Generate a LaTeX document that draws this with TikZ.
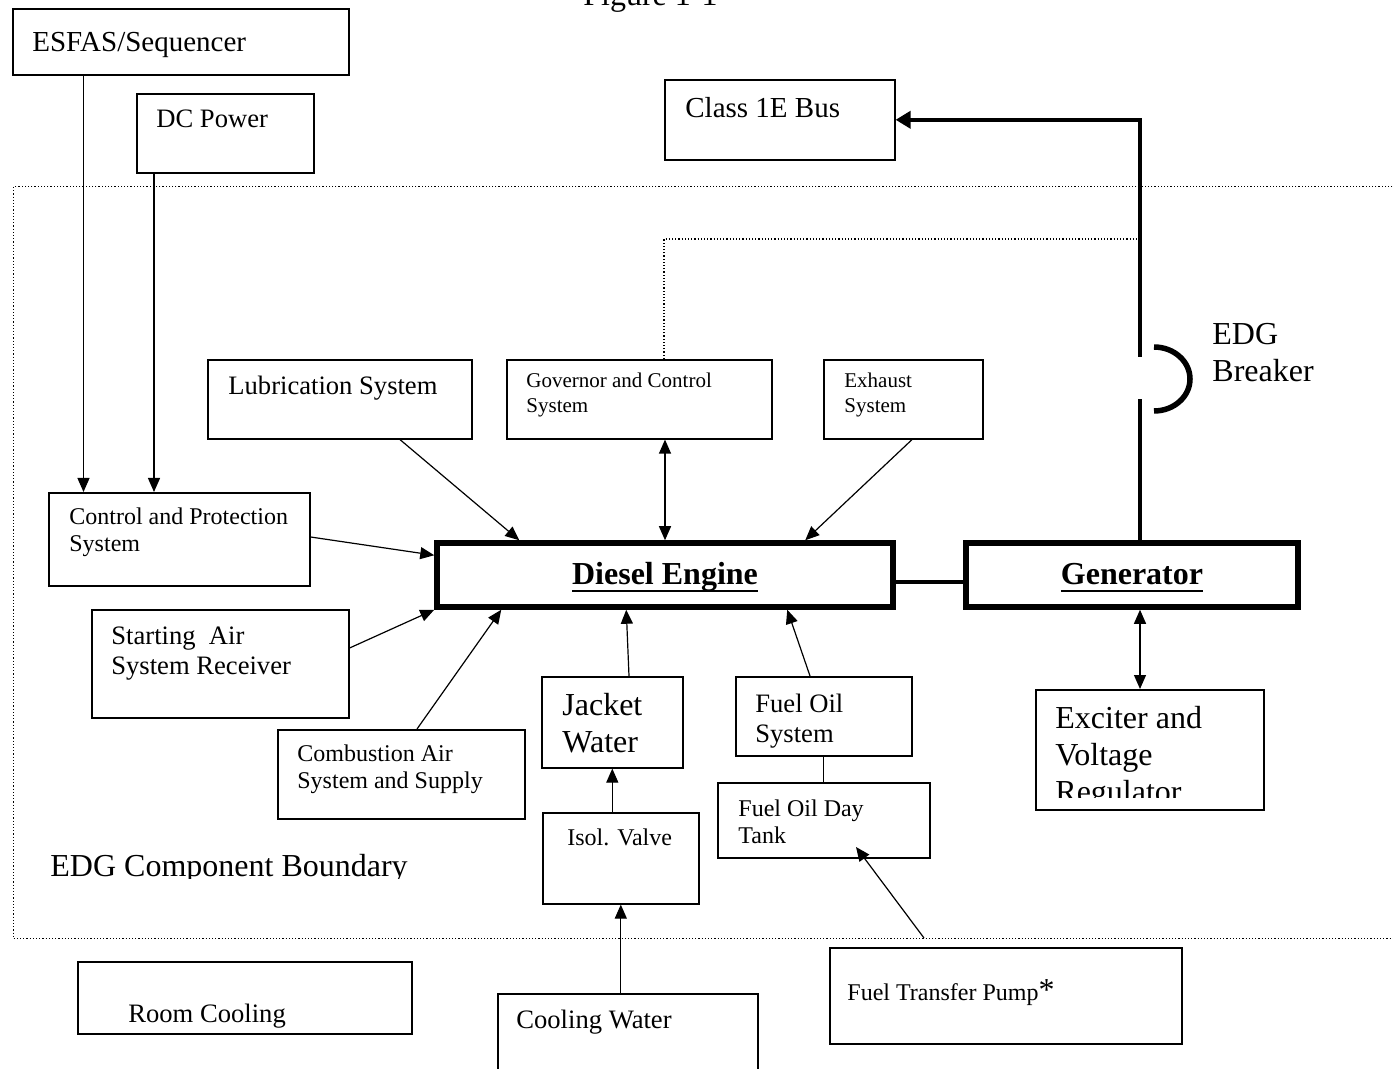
\documentclass[tikz,border=0pt]{standalone}
\usepackage{fontspec}
\setmainfont{Liberation Serif}
\usetikzlibrary{arrows.meta}
\newcommand{\txtL}{\fontsize{16}{18.5}\selectfont}
\newcommand{\txtE}{\fontsize{14.5}{17}\selectfont}
\newcommand{\txtM}{\fontsize{13.3}{15}\selectfont}
\newcommand{\txtS}{\fontsize{12}{13.5}\selectfont}
\newcommand{\txtXS}{\fontsize{10.5}{12.5}\selectfont}
\newcommand{\ulg}[1]{\setbox0\hbox{#1}\rlap{\rule[-3.6pt]{\wd0}{1pt}}\box0}
\begin{document}
\begin{tikzpicture}[
  x=0.5pt, y=-0.5pt,
  >={Triangle[length=7pt,width=6pt]},
  box/.style={rectangle, draw, line width=0.8pt, inner sep=0pt, anchor=north west},
  bigbox/.style={rectangle, draw, line width=2.75pt, minimum width=#1, minimum height=32pt, inner sep=0pt, text height=11pt, text depth=1pt, font=\txtL\bfseries},
  bound/.style={rectangle, draw, densely dotted, line width=0.6pt, inner sep=0pt, anchor=north west},
  txt/.style={inner sep=0pt, anchor=base west, align=left},
  link/.style={line width=0.6pt},
  power/.style={line width=2.25pt}
]
\useasboundingbox[fill=white] (0,0) rectangle (1393,1069);
\clip (0,0) rectangle (1393,1069);

\node[bound, minimum width=693.5pt, minimum height=376pt] (boundary) at (13,186) {};
\node[txt, font=\txtL] (fig) at (583,6) {Figure 1-1};

\node[box, minimum width=168pt, minimum height=33pt] (esfas) at (12,8) {};
\node[box, minimum width=88.5pt, minimum height=39.5pt] (dcpower) at (136,93) {};
\node[box, minimum width=115pt, minimum height=40pt] (bus) at (664,79) {};
\node[box, minimum width=132pt, minimum height=39.5pt] (lube) at (207,359) {};
\node[box, minimum width=132.5pt, minimum height=39.5pt] (gov) at (506,359) {};
\node[box, minimum width=79.5pt, minimum height=39.5pt] (exhaust) at (823,359) {};
\node[box, minimum width=130.5pt, minimum height=46.5pt] (cps) at (48,492) {};
\node[box, minimum width=128.5pt, minimum height=54pt] (startair) at (91,609) {};
\node[box, minimum width=123.5pt, minimum height=44.5pt] (combair) at (277,729) {};
\node[box, minimum width=70.5pt, minimum height=45.5pt] (jacket) at (541,676) {};
\node[box, minimum width=88pt, minimum height=39.5pt] (fuelsys) at (735,676) {};
\node[box, minimum width=106pt, minimum height=37.5pt] (daytank) at (717,782) {};
\node[box, minimum width=78pt, minimum height=45.5pt] (valve) at (542,812) {};
\node[box, minimum width=114pt, minimum height=60pt] (exciter) at (1035,689) {};
\node[box, minimum width=167pt, minimum height=36pt] (room) at (77,961) {};
\node[box, minimum width=130pt, minimum height=60pt] (coolwater) at (497,993) {};
\node[box, minimum width=176pt, minimum height=48pt] (pump) at (829,947) {};
\node[bigbox=228pt] (engine) at (665,575) {\ulg{Diesel Engine}};
\node[bigbox=166pt] (gen) at (1132,575) {\ulg{Generator}};

\node[txt, font=\txtE] (esfas-t) at (32,52) {ESFAS/Sequencer};
\node[txt, font=\txtM] (dcpower-t) at (156,128) {DC Power};
\node[txt, font=\txtE] (bus-t) at (685,118) {Class 1E Bus};
\node[txt, font=\txtM] (lube-t) at (228,395) {Lubrication System};
\node[txt, font=\txtXS] (gov-t) at (526,413) {Governor and Control\\System};
\node[txt, font=\txtXS] (exhaust-t) at (844,413) {Exhaust\\System};
\node[txt, font=\txtS] (cps-t) at (69,552) {Control and Protection\\System};
\node[txt, font=\txtM] (startair-t) at (111,675) {Starting\ \ Air\\System Receiver};
\node[txt, font=\txtS] (combair-t) at (297,788) {Combustion Air\\System and Supply};
\node[txt, font=\txtL] (jacket-t) at (562,752) {Jacket\\Water};
\node[txt, font=\txtM] (fuelsys-t) at (755,742) {Fuel Oil\\System};
\node[txt, font=\txtS] (daytank-t) at (738,843) {Fuel Oil Day\\Tank};
\node[txt, font=\txtS] (valve-t) at (567,845) {Isol. Valve};
\node[txt, font=\txtS] (pump-t) at (847,1000) {Fuel Transfer Pump{\txtL*}};
\node[txt, font=\txtM] (coolwater-t) at (516,1028) {Cooling Water};
\node[txt, font=\txtM] (room-t) at (128,1022) {Room Cooling};
\node[txt, font=\txtL] (brk-t) at (1212,382) {EDG\\Breaker};
\begin{scope}
  \clip (1035,689) rectangle (1263,797);
  \node[txt, font=\txtL] (exciter-t) at (1055,802) {Exciter and\\Voltage\\Regulator};
\end{scope}
\begin{scope}
  \clip (13,840) rectangle (500,878);
  \node[txt, font=\txtL] (boundary-t) at (50,876) {EDG Component Boundary};
\end{scope}

\draw[link,->] ([xshift=35.75pt]esfas.south west) -- ([xshift=17.75pt]cps.north west);
\draw[link,->] ([xshift=9pt]dcpower.south west) -- ([xshift=53pt]cps.north west);
\draw[link,->] ([yshift=-22.5pt]cps.north east) -- ([yshift=-7.5pt]engine.north west);
\draw[link,->] ([yshift=-19.5pt]startair.north east) -- (engine.south west);
\draw[link,->] ([xshift=70pt]combair.north west) -- ([xshift=33.5pt]engine.south west);
\draw[link,->] ([xshift=44pt]jacket.north west) -- ([xshift=96pt]engine.south west);
\draw[link,->] ([xshift=37.5pt]fuelsys.north west) -- ([xshift=176.5pt]engine.south west);
\draw[link,->] ([xshift=96.5pt]lube.south west) -- ([xshift=42.5pt]engine.north west);
\draw[link,<->] ([xshift=79.5pt]gov.south west) -- (engine.north);
\draw[link,->] ([xshift=44.5pt]exhaust.south west) -- ([xshift=185.5pt]engine.north west);
\draw[link,->] (valve.north -| jacket.south) -- (jacket.south);
\draw[link,->] (coolwater.north -| valve.south) -- (valve.south);
\draw[link] (fuelsys.south) -- (daytank.north);
\draw[link,->] ([shift={(47.5pt,4.5pt)}]pump.north west) -- ([shift={(69.5pt,-32.5pt)}]daytank.north west);
\draw[link,<->] ([xshift=4pt]gen.south) -- ([xshift=52.5pt]exciter.north west);

\coordinate (brkA) at (1140,399);
\coordinate (brkB) at (1140,357);
\coordinate (tap) at (1140,239);
\draw[power] ([xshift=4pt]gen.north) -- (brkA);
\draw[power,-{Triangle[length=7.5pt,width=8.5pt]}] (brkB) -- (brkB |- bus.east) -- (bus.east);
\draw[line width=2.75pt] (1154,347) arc[start angle=90, end angle=-90, x radius=18pt, y radius=16pt];
\draw[link, densely dotted] ([xshift=79pt]gov.north west) |- (tap);
\draw[line width=2.4pt] ([yshift=-3.5pt]engine.east) -- ([yshift=-3.5pt]gen.west);
\end{tikzpicture}
\end{document}
